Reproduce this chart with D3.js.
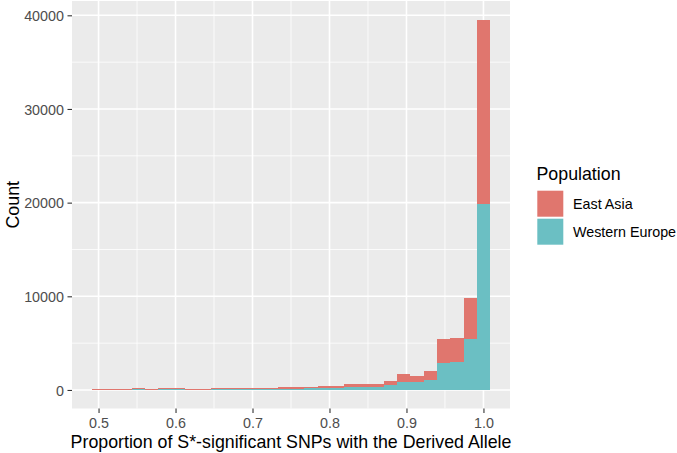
<!DOCTYPE html>
<html>
<head>
<meta charset="utf-8">
<script src="https://cdn.jsdelivr.net/npm/d3@7"></script>
<style>
  html, body { margin: 0; padding: 0; background: #ffffff; }
  svg { display: block; font-family: "Liberation Sans", Arial, sans-serif; }
</style>
</head>
<body>
<svg id="chart" width="677" height="453"></svg>
<script>
// ---- data ----
// 30 histogram bins, centred on these proportions
const binCenters = d3.range(30).map(i => 0.5 + i * 0.5 / 29);
const binWidth = 0.5 / 29;
const populations = ["East Asia", "Western Europe"];
const westernEurope = [20, 30, 40, 60, 50, 60, 60, 40, 50, 80,
                       90, 70, 100, 110, 130, 140, 160, 180, 190, 270,
                       300, 310, 480, 900, 820, 1080, 2930, 3000, 5400, 19900];
const eastAsia = [40, 70, 110, 140, 80, 140, 120, 80, 80, 120,
                  120, 110, 140, 140, 200, 160, 190, 210, 200, 330,
                  340, 350, 500, 820, 640, 920, 2550, 2540, 4420, 19650];
const yTicks = [0, 10000, 20000, 30000, 40000];
const yMinor = [5000, 15000, 25000, 35000];
const xTicks = [0.5, 0.6, 0.7, 0.8, 0.9, 1.0];
const xMinor = [0.55, 0.65, 0.75, 0.85, 0.95];
const colors = ["#E0766E", "#6BBFC3"];

// ---- layout ----
const svg = d3.select("#chart");
const P = { left: 72, right: 510, top: 1, bottom: 408.5 };

const xMin = binCenters[0] - binWidth / 2, xMax = binCenters[29] + binWidth / 2;
const xPad = (xMax - xMin) * 0.05;
const x = d3.scaleLinear().domain([xMin - xPad, xMax + xPad]).range([P.left, P.right]);

const rows = binCenters.map((c, i) => ({ c, "Western Europe": westernEurope[i], "East Asia": eastAsia[i] }));
const stack = d3.stack().keys(["Western Europe", "East Asia"])(rows);
const yMaxV = d3.max(rows, d => d["Western Europe"] + d["East Asia"]);
const y = d3.scaleLinear().domain([-yMaxV * 0.05, yMaxV * 1.05]).range([P.bottom, P.top]);

// panel
svg.append("rect").attr("x", P.left).attr("y", P.top)
  .attr("width", P.right - P.left).attr("height", P.bottom - P.top).attr("fill", "#EBEBEB");

const grid = svg.append("g");
yMinor.forEach(v => grid.append("line").attr("x1", P.left).attr("x2", P.right)
  .attr("y1", y(v)).attr("y2", y(v)).attr("stroke", "#fff").attr("stroke-width", 0.8));
xMinor.forEach(v => grid.append("line").attr("y1", P.top).attr("y2", P.bottom)
  .attr("x1", x(v)).attr("x2", x(v)).attr("stroke", "#fff").attr("stroke-width", 0.8));
yTicks.forEach(v => grid.append("line").attr("x1", P.left).attr("x2", P.right)
  .attr("y1", y(v)).attr("y2", y(v)).attr("stroke", "#fff").attr("stroke-width", 1.6));
xTicks.forEach(v => grid.append("line").attr("y1", P.top).attr("y2", P.bottom)
  .attr("x1", x(v)).attr("x2", x(v)).attr("stroke", "#fff").attr("stroke-width", 1.6));

// bars
const colorOf = { "East Asia": colors[0], "Western Europe": colors[1] };
stack.forEach(layer => {
  svg.append("g").selectAll("rect").data(layer).join("rect")
    .attr("x", d => x(d.data.c - binWidth / 2))
    .attr("width", d => x(d.data.c + binWidth / 2) - x(d.data.c - binWidth / 2))
    .attr("y", d => y(d[1]))
    .attr("height", d => y(d[0]) - y(d[1]))
    .attr("fill", colorOf[layer.key])
    .attr("shape-rendering", "crispEdges");
});

// axes
const xAxis = d3.axisBottom(x).tickValues(xTicks).tickFormat(d3.format(".1f")).tickSize(4.5).tickPadding(3.6);
const gx = svg.append("g").attr("transform", `translate(0,${P.bottom})`).call(xAxis);
gx.select(".domain").remove();
gx.selectAll(".tick line").attr("stroke", "#333333").attr("stroke-width", 1.1);
gx.selectAll(".tick text").attr("fill", "#4D4D4D").attr("font-size", 14.3).attr("y", 19).attr("dy", 0);

const yAxis = d3.axisLeft(y).tickValues(yTicks).tickFormat(d3.format("d")).tickSize(4.5).tickPadding(3.6);
const gy = svg.append("g").attr("transform", `translate(${P.left},0)`).call(yAxis);
gy.select(".domain").remove();
gy.selectAll(".tick line").attr("stroke", "#333333").attr("stroke-width", 1.1);
gy.selectAll(".tick text").attr("fill", "#4D4D4D").attr("font-size", 14.3).attr("dy", "0.36em");

// axis titles
svg.append("text").attr("x", (P.left + P.right) / 2).attr("y", 447.5)
  .attr("text-anchor", "middle").attr("font-size", 17.8).attr("fill", "#000")
  .text("Proportion of S*-significant SNPs with the Derived Allele");
svg.append("text").attr("transform", `translate(18.5,${(P.top + P.bottom) / 2}) rotate(-90)`)
  .attr("text-anchor", "middle").attr("font-size", 17.8).attr("fill", "#000").text("Count");

// legend
const lg = svg.append("g");
lg.append("text").attr("x", 536.5).attr("y", 180).attr("font-size", 17.8).attr("fill", "#000").text("Population");
populations.forEach((p, i) => {
  const yy = 190.7 + i * 28;
  lg.append("rect").attr("x", 537.3).attr("y", yy).attr("width", 26).attr("height", 26)
    .attr("fill", colors[i]);
  lg.append("text").attr("x", 573).attr("y", yy + 13).attr("dy", "0.36em")
    .attr("font-size", 14.3).attr("fill", "#000").text(p);
});
</script>
</body>
</html>
